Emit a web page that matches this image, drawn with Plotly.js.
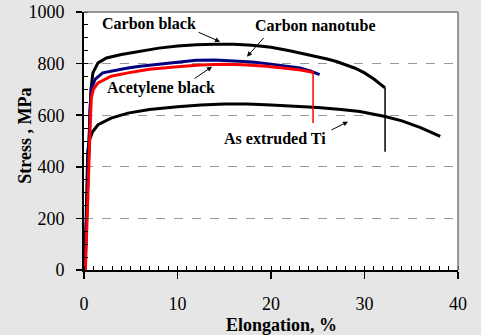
<!DOCTYPE html>
<html>
<head>
<meta charset="utf-8">
<script src="https://cdn.plot.ly/plotly-3.0.1.min.js"></script>
<style>
  html, body { margin: 0; padding: 0; background: #e6e6e6; }
  #chart { width: 481px; height: 335px; }
</style>
</head>
<body>
<div id="chart"></div>
<script>
// Carbon black
const cbX = [0.1, 0.3, 0.5, 0.65, 0.75, 0.95, 1.5, 2.4, 4, 6, 8, 10, 12, 14, 16, 18, 20, 22, 24, 26, 27, 28, 29, 30, 31, 32.2];
const cbY = [0, 250, 450, 620, 700, 764, 803, 822, 835, 848, 860, 868, 873, 875, 875, 871, 863, 850, 835, 818, 808, 796, 782, 764, 740, 706];
const cbFracX = [32.2, 32.2];
const cbFracY = [706, 458];
// Carbon nanotube
const cntX = [0.1, 0.3, 0.5, 0.65, 0.78, 1.2, 2, 3, 4.7, 6, 8, 10, 12, 14, 16, 18, 20, 22, 23.1, 24.2, 25.2];
const cntY = [0, 250, 450, 620, 700, 740, 764, 772, 783, 790, 798, 806, 813, 814, 811, 806, 798, 790, 783, 772, 757];
// Acetylene black
const abX = [0.15, 0.35, 0.55, 0.7, 0.78, 1.0, 1.5, 2.9, 4.7, 7, 10, 12.4, 15, 17, 19.5, 21.5, 23, 24.2, 24.6];
const abY = [0, 250, 450, 600, 667, 700, 725, 751, 764, 778, 788, 795, 797, 796, 790, 783, 776, 768, 764];
const abFracX = [24.5, 24.5];
const abFracY = [764, 570];
// As extruded Ti
const tiX = [0.1, 0.25, 0.4, 0.6, 0.9, 1.5, 2.9, 4.7, 7, 10, 12.5, 15, 17.5, 20, 22.5, 25, 27.5, 29.5, 32.2, 34, 36, 38.1];
const tiY = [0, 250, 460, 505, 535, 563, 589, 608, 622, 633, 640, 643, 643, 640, 636, 630, 622, 614, 595, 578, 552, 518];

const xTickVals = [0, 10, 20, 30, 40];
const yTickVals = [0, 200, 400, 600, 800, 1000];

const FONT = 'Liberation Serif, Times New Roman, serif';

const traces = [
  {x: tiX, y: tiY, mode: 'lines', line: {color: '#000000', width: 3}, name: 'As extruded Ti'},
  {x: cbX, y: cbY, mode: 'lines', line: {color: '#000000', width: 3}, name: 'Carbon black'},
  {x: cbFracX, y: cbFracY, mode: 'lines', line: {color: '#000000', width: 1.5}, name: 'CB fracture'},
  {x: cntX, y: cntY, mode: 'lines', line: {color: '#000080', width: 3}, name: 'Carbon nanotube'},
  {x: abX, y: abY, mode: 'lines', line: {color: '#ff0000', width: 3}, name: 'Acetylene black'},
  {x: abFracX, y: abFracY, mode: 'lines', line: {color: '#ff0000', width: 1.5}, name: 'AB fracture'}
];

const labelFont = {family: FONT, size: 16, color: '#000', weight: 'bold'};
const titleFont = {family: FONT, size: 18, color: '#000', weight: 'bold'};
function arrow(hx, hy, tx, ty) {
  return {x: hx, y: hy, ax: tx, ay: ty, xref: 'x', yref: 'y', axref: 'x', ayref: 'y',
          text: '', showarrow: true, arrowhead: 2, arrowsize: 1, arrowwidth: 1, arrowcolor: '#000'};
}
function label(txt, x, y) {
  return {x: x, y: y, xref: 'x', yref: 'y', text: txt, showarrow: false, font: labelFont,
          xanchor: 'center', yanchor: 'middle'};
}

const layout = {
  width: 481, height: 335,
  margin: {l: 84, r: 23, t: 12, b: 65},
  paper_bgcolor: 'rgba(0,0,0,0)',
  plot_bgcolor: '#ffffff',
  showlegend: false,
  font: {family: FONT, color: '#000'},
  xaxis: {
    range: [0, 40], tickvals: xTickVals, ticktext: xTickVals.map(String),
    ticks: 'outside', ticklen: 7, tickwidth: 1.5, tickcolor: '#000',
    showline: true, linecolor: '#000', linewidth: 2,
    showgrid: false, zeroline: false,
    minor: {ticks: 'inside', dtick: 1, ticklen: 4, tickwidth: 1, tickcolor: '#000', showgrid: false},
    tickfont: {family: FONT, size: 18, color: '#000'},
    ticklabelstandoff: 9
  },
  yaxis: {
    range: [0, 1000], tickvals: yTickVals, ticktext: yTickVals.map(String),
    ticks: 'outside', ticklen: 6, tickwidth: 1.5, tickcolor: '#000',
    showline: true, linecolor: '#000', linewidth: 2,
    showgrid: true, gridcolor: '#999999', griddash: 'dash', gridwidth: 1,
    zeroline: false,
    minor: {ticks: 'inside', dtick: 50, ticklen: 4, tickwidth: 1, tickcolor: '#000', showgrid: false},
    tickfont: {family: FONT, size: 18, color: '#000'},
    ticklabelstandoff: 8
  },
  shapes: [
    {type: 'line', xref: 'paper', yref: 'paper', x0: 0, x1: 1, y0: 1, y1: 1, line: {color: '#777', width: 1.5}},
    {type: 'line', xref: 'paper', yref: 'paper', x0: 1, x1: 1, y0: 0, y1: 1, line: {color: '#777', width: 1.5}}
  ],
  annotations: [
    {text: 'Elongation, %', xref: 'paper', yref: 'paper', x: 0.527, y: -0.215,
     xanchor: 'center', yanchor: 'middle', showarrow: false, font: titleFont},
    {text: 'Stress , MPa', xref: 'paper', yref: 'paper', x: -0.158, y: 0.52, textangle: -90,
     xanchor: 'center', yanchor: 'middle', showarrow: false, font: titleFont},
    label('Carbon black', 6.9, 955),
    arrow(14.55, 885, 12.09, 924),
    label('Carbon nanotube', 24.7, 948),
    arrow(17.43, 827, 19.36, 905),
    label('Acetylene black', 8.24, 707),
    arrow(13.69, 788, 11.66, 738),
    label('As extruded Ti', 20.48, 509),
    arrow(28.24, 575, 26.31, 540)
  ]
};

Plotly.newPlot('chart', traces, layout, {displayModeBar: false, staticPlot: true});
</script>
</body>
</html>
